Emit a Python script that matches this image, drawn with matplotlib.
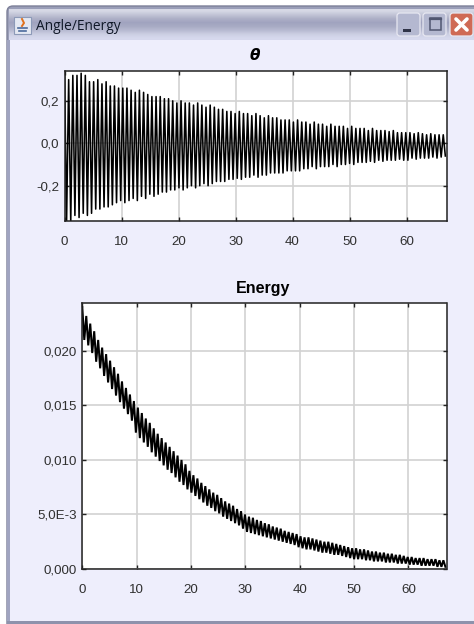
import numpy as np
import matplotlib
matplotlib.use("Agg")
import matplotlib.pyplot as plt
from matplotlib.patches import Rectangle, FancyBboxPatch

W, H = 474, 624
plt.rcParams['font.family'] = ['Liberation Sans', 'DejaVu Sans']

window_title = "Angle/Energy"
top_title = r"$\boldsymbol{\theta}$"
bottom_title = "Energy"
x_ticks_top = [0, 10, 20, 30, 40, 50, 60]
x_ticks_bottom = [0, 10, 20, 30, 40, 50, 60]
x_labels = ["0", "10", "20", "30", "40", "50", "60"]
y_ticks_top = [-0.2, 0.0, 0.2]
y_labels_top = ["-0,2", "0,0", "0,2"]
y_ticks_bottom = [0.0, 0.005, 0.010, 0.015, 0.020]
y_labels_bottom = ["0,000", "5,0E-3", "0,010", "0,015", "0,020"]
cycle = 0.73

theta_peaks = [.34,.30,.32,.32,.33,.32,.29,.29,.30,.28,.29,.27,.27,.26,
 .26,.26,.25,.24,.25,.24,.23,.22,.22,.22,.21,.21,.20,.19,
 .20,.19,.19,.18,.19,.18,.17,.18,.17,.16,.16,.15,.15,.14,
 .15,.14,.14,.13,.14,.13,.12,.13,.12,.12,.11,.11,.11,.10,
 .11,.10,.10,.09,.10,.09,.09,.08,.09,.08,.08,.08,.07,
 .08,.07,.07,.07,.06,.07,.06,.06,.06,.055,.06,.05,.05,
 .05,.05,.045,.05,.045,.04,.045,.04,.04,.04]
theta_troughs = [-.37,-.37,-.34,-.35,-.33,-.34,-.33,-.31,-.31,-.30,-.30,-.29,-.28,-.27,
 -.28,-.27,-.26,-.27,-.25,-.26,-.24,-.25,-.24,-.23,-.23,-.22,-.22,-.21,
 -.22,-.21,-.20,-.21,-.20,-.19,-.20,-.19,-.18,-.18,-.18,-.17,-.17,-.165,
 -.17,-.16,-.16,-.15,-.16,-.15,-.15,-.14,-.14,-.14,-.14,-.13,-.13,-.13,
 -.13,-.12,-.12,-.11,-.12,-.11,-.11,-.11,-.10,-.11,-.10,-.10,-.095,
 -.10,-.09,-.09,-.09,-.085,-.09,-.08,-.085,-.08,-.08,-.08,-.075,-.08,
 -.08,-.07,-.075,-.07,-.07,-.07,-.065,-.07,-.065,-.06]
energy_upper = [240,232,225,218,210,203,197,191,185,179,172,166,160,154,
 148,143,138,134,129,124,120,116,112,108,104,100,96,90,
 86,83,79,76,73,70,68,65,62,60,58,55,53,50,
 48,47,45,44,42,41,39,38,37,35,34,33,32,30,
 29,29,28,27,26,25,25,24,23,22,21,20,19,
 19,18,18,17,16,16,15,15,14,14,13,13,12,
 11,11,10,10,10,9,9,9,8,8]
energy_lower = [210,205,198,190,184,177,171,165,159,153,147,142,136,125,
 120,116,112,107,103,99,95,91,88,84,80,77,73,70,
 67,64,61,58,56,53,51,48,46,44,42,40,37,34,
 33,32,31,30,29,28,27,26,25,24,23,22,20,19,
 18,18,17,16,15,15,14,13,13,12,11,10,9,
 9,9,8,8,7,7,7,6,6,6,5,5,5,
 4,4,4,3,3,3,3,2,2,2]

def zigzag(hi, lo, scale=1.0):
    t, v = [], []
    for i, (a, b) in enumerate(zip(hi, lo)):
        t += [i * cycle, (i + 0.5) * cycle]
        v += [a * scale, b * scale]
    return t, v

fig = plt.figure(figsize=(W / 100, H / 100), dpi=100, facecolor="white")

# window chrome, in pixel coordinates
bg = fig.add_axes([0, 0, 1, 1], zorder=0)
bg.set_xlim(0, W); bg.set_ylim(H, 0); bg.axis("off")
bg.add_patch(FancyBboxPatch((9, 8), W, H, boxstyle="round,pad=2,rounding_size=6",
                            fc="#9a9eb8", ec="#7d8098", lw=1, zorder=1))
grad = np.array([[.84,.85,.90],[.76,.77,.84],[.68,.69,.78],[.63,.64,.75],
                 [.66,.67,.77],[.72,.73,.82],[.80,.81,.89],[.84,.85,.93]])
bg.imshow(grad[:, None, :], extent=(9, W, 40, 9), aspect="auto", interpolation="bilinear", zorder=2)
bg.set_xlim(0, W); bg.set_ylim(H, 0)
bg.add_patch(Rectangle((10, 40), W, H - 42, fc="#EEEEFC", ec="none", zorder=3))
bg.add_patch(Rectangle((7, 40), 3, H, fc="#a0a4c0", ec="none", zorder=3))
bg.add_patch(Rectangle((7, 621), W, 3, fc="#8e92ac", ec="none", zorder=3))
# java icon
bg.add_patch(Rectangle((14, 17), 17, 17, fc="#e4e8f2", ec="#8d9ab8", lw=0.8, zorder=3))
bg.plot([22, 24, 22], [19, 23, 26], color="#e0701c", lw=1.4, zorder=4)
bg.plot([18, 27], [28, 28], color="#4c6a9c", lw=1.2, zorder=4)
bg.plot([19, 26], [31, 31], color="#4c6a9c", lw=1.2, zorder=4)
bg.text(36.5, 26.5, window_title, fontsize=9.9, family=["Open Sans", "DejaVu Sans"],
        color="#101828", va="center", ha="left", zorder=4)
# buttons
for x0, fc in [(397, "#b4b8d0"), (423, "#b4b8d0"), (450, "#cf6a55")]:
    bg.add_patch(FancyBboxPatch((x0 + 1, 14), 21, 21, boxstyle="round,pad=1,rounding_size=3",
                                fc=fc, ec="#e8e8f2", lw=0.9, zorder=3))
bg.add_patch(Rectangle((403, 29), 8, 2.5, fc="#303448", ec="none", zorder=4))
bg.add_patch(Rectangle((430, 18), 11, 12, fc="none", ec="#505670", lw=1.1, zorder=4))
bg.plot([430, 441], [19, 19], color="#505670", lw=1.6, zorder=4)
bg.plot([456, 467], [19, 30], color="white", lw=2.6, solid_capstyle="round", zorder=4)
bg.plot([456, 467], [30, 19], color="white", lw=2.6, solid_capstyle="round", zorder=4)

def make_axes(left, top, right, bottom):
    return fig.add_axes([left / W, 1 - bottom / H, (right - left) / W, (bottom - top) / H], zorder=2)

def style(ax, xt, yt, yl, ypad):
    ax.set_facecolor("white")
    ax.set_xticks(xt, x_labels); ax.set_yticks(yt, yl)
    ax.grid(True, color="#d2d2d2", lw=1.2)
    ax.set_axisbelow(True)
    ax.tick_params(direction="in", top=True, right=True, length=3, width=1, color="#222222",
                   labelsize=9.6, labelcolor="#303030")
    ax.tick_params(axis="x", pad=11)
    ax.tick_params(axis="y", pad=ypad)
    for s in ax.spines.values():
        s.set_color("#222222"); s.set_linewidth(1.1)

ax1 = make_axes(64.5, 70.5, 446.5, 220.5)
t1, v1 = zigzag(theta_peaks, theta_troughs)
ax1.plot(t1, v1, color="black", lw=1.15)
ax1.set_xlim(0, 67); ax1.set_ylim(-0.364, 0.343)
style(ax1, x_ticks_top, y_ticks_top, y_labels_top, 4)

ax2 = make_axes(82.3, 303.3, 446.5, 569)
t2, v2 = zigzag(energy_upper, energy_lower, 1e-4)
ax2.plot(t2, v2, color="black", lw=1.45, solid_joinstyle="miter")
ax2.set_xlim(0, 67); ax2.set_ylim(0, 0.02436)
style(ax2, x_ticks_bottom, y_ticks_bottom, y_labels_bottom, 4)

bg.text(255, 55.5, top_title, fontsize=11, color="black", ha="center", va="center",
        math_fontfamily="dejavusans", zorder=4)
bg.text(263.5, 288, bottom_title, fontsize=11.5, fontweight="bold", color="black", ha="center", va="center", zorder=4)

fig.savefig("out.png", dpi=100)
